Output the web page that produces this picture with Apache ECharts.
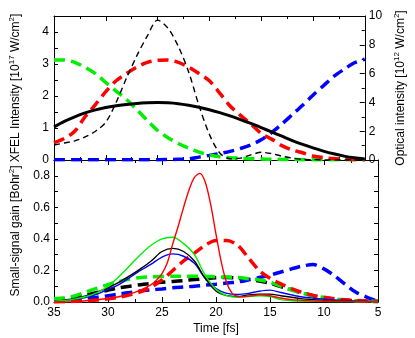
<!DOCTYPE html>
<html>
<head>
<meta charset="utf-8">
<script src="https://cdn.jsdelivr.net/npm/echarts@6/dist/echarts.min.js"></script>
<style>
  html, body { margin: 0; padding: 0; background: #fff; }
  #chart { width: 415px; height: 338px; }
</style>
</head>
<body>
<div id="chart"></div>
<script>
// time axis (fs), runs from 35 down to 5
var time = [35, 34, 33, 32, 31, 30, 29, 28, 27, 26, 25, 24, 23, 22, 21, 20, 19, 18, 17, 16, 15, 14, 13, 12, 11, 10, 9, 8, 7, 6, 5]

// top panel: XFEL pulse [1e17 W/cm2], left axis
var xfelPulse = [0.47, 0.53, 0.6, 0.72, 0.9, 1.18, 1.8, 2.56, 3.26, 3.87, 4.37, 4.12, 3.55, 2.75, 1.7, 0.8, 0.22, 0.04, 0.06, 0.16, 0.24, 0.2, 0.12, 0.06, 0.02, 0.01, 0, 0, 0, 0, 0]
// top panel: optical intensities [1e12 W/cm2], right axis
var opticalBlack = [2.3, 2.68, 3.0, 3.27, 3.48, 3.64, 3.76, 3.86, 3.93, 3.97, 3.99, 3.97, 3.91, 3.8, 3.66, 3.49, 3.29, 3.06, 2.81, 2.54, 2.25, 1.95, 1.65, 1.35, 1.08, 0.84, 0.62, 0.43, 0.27, 0.15, 0.07]
var opticalRed = [1.2, 1.5, 2.0, 3.0, 3.85, 4.75, 5.5, 6.0, 6.45, 6.78, 6.93, 6.95, 6.78, 6.45, 6.0, 5.5, 4.65, 3.75, 3.1, 2.5, 1.85, 1.45, 1.0, 0.7, 0.5, 0.28, 0.17, 0.1, 0.06, 0.04, 0.02]
var opticalGreen = [6.95, 6.95, 6.78, 6.44, 6.0, 5.38, 4.78, 4.2, 3.5, 2.75, 2.05, 1.55, 1.15, 0.82, 0.55, 0.35, 0.22, 0.16, 0.11, 0.09, 0.07, 0.05, 0.04, 0.03, 0.02, 0.02, 0.01, 0.01, 0.01, 0.01, 0.01]
var opticalBlue = [0.02, 0.02, 0.02, 0.02, 0.02, 0.02, 0.02, 0.02, 0.02, 0.02, 0.02, 0.03, 0.05, 0.08, 0.2, 0.32, 0.45, 0.6, 0.8, 1.05, 1.4, 1.9, 2.5, 3.15, 3.8, 4.5, 5.15, 5.8, 6.3, 6.75, 7.0]

// bottom panel: small-signal gain [Bohr2]
var gainBlackDash = [0.015, 0.02, 0.03, 0.045, 0.06, 0.075, 0.09, 0.1, 0.11, 0.118, 0.125, 0.13, 0.136, 0.142, 0.148, 0.153, 0.155, 0.152, 0.145, 0.133, 0.118, 0.098, 0.078, 0.057, 0.04, 0.027, 0.018, 0.012, 0.008, 0.005, 0.003]
var gainBlueDash = [0.005, 0.01, 0.016, 0.023, 0.03, 0.04, 0.05, 0.06, 0.07, 0.077, 0.083, 0.09, 0.095, 0.1, 0.107, 0.113, 0.12, 0.127, 0.14, 0.155, 0.17, 0.19, 0.21, 0.228, 0.237, 0.21, 0.165, 0.11, 0.06, 0.03, 0.005]
var gainGreenDash = [0.02, 0.027, 0.04, 0.065, 0.088, 0.11, 0.13, 0.145, 0.155, 0.16, 0.162, 0.163, 0.163, 0.163, 0.162, 0.16, 0.158, 0.155, 0.148, 0.14, 0.125, 0.1, 0.075, 0.055, 0.04, 0.028, 0.018, 0.012, 0.008, 0.005, 0.003]
var gainRedDash = [0, 0.002, 0.005, 0.008, 0.012, 0.02, 0.03, 0.045, 0.065, 0.095, 0.14, 0.2, 0.26, 0.31, 0.36, 0.39, 0.39, 0.36, 0.28, 0.2, 0.15, 0.115, 0.085, 0.06, 0.042, 0.03, 0.02, 0.014, 0.01, 0.007, 0.005]
var gainBlue = [0.005, 0.01, 0.018, 0.03, 0.05, 0.08, 0.11, 0.155, 0.2, 0.24, 0.285, 0.305, 0.29, 0.245, 0.15, 0.085, 0.055, 0.048, 0.055, 0.068, 0.075, 0.06, 0.045, 0.032, 0.024, 0.018, 0.013, 0.01, 0.007, 0.005, 0.004]
var gainBlack = [0.005, 0.012, 0.022, 0.04, 0.065, 0.09, 0.125, 0.165, 0.21, 0.26, 0.32, 0.34, 0.32, 0.26, 0.15, 0.07, 0.04, 0.035, 0.045, 0.05, 0.05, 0.04, 0.03, 0.02, 0.015, 0.01, 0.008, 0.006, 0.004, 0.003, 0.002]
var gainGreen = [0.005, 0.01, 0.02, 0.035, 0.06, 0.1, 0.16, 0.23, 0.3, 0.36, 0.4, 0.41, 0.37, 0.3, 0.17, 0.08, 0.04, 0.03, 0.035, 0.04, 0.035, 0.015, 0.008, 0.005, 0.004, 0.004, 0.003, 0.003, 0.003, 0.003, 0.003]
// red gain is sharper, sampled finer near its peak
var timeRed = [35, 34, 33, 32, 31, 30, 29, 28, 27, 26, 25.5, 25, 24.5, 24, 23.5, 23, 22.5, 22, 21.5, 21, 20.5, 20, 19.5, 19, 18.5, 18, 17.5, 17, 16, 15, 14, 13, 12, 11, 10, 9, 8, 7, 6, 5]
var gainRed = [0, 0, 0.003, 0.008, 0.014, 0.022, 0.033, 0.05, 0.075, 0.11, 0.14, 0.18, 0.25, 0.37, 0.48, 0.6, 0.71, 0.79, 0.815, 0.76, 0.62, 0.43, 0.25, 0.12, 0.055, 0.035, 0.033, 0.036, 0.045, 0.04, 0.025, 0.015, 0.01, 0.007, 0.005, 0.004, 0.003, 0.002, 0.002, 0.001]

var FONT = 'Liberation Sans'
var DASH = [11, 6]
var THIN_DASH = [6, 4]

function pairs (xs, ys) {
  var out = []
  for (var i = 0; i < xs.length; i++) out.push([xs[i], ys[i]])
  return out
}

function line (data, color, width, type, xi, yi) {
  return {
    type: 'line',
    data: data,
    xAxisIndex: xi,
    yAxisIndex: yi,
    smooth: 0.3,
    symbol: 'none',
    silent: true,
    lineStyle: { color: color, width: width, type: type, cap: 'butt' }
  }
}

function timeAxis (grid, pos, labels) {
  return {
    type: 'value',
    gridIndex: grid,
    position: pos,
    inverse: true,
    min: 5,
    max: 35,
    interval: 5,
    name: labels ? 'Time [fs]' : '',
    nameLocation: 'middle',
    nameGap: 21,
    nameTextStyle: { fontFamily: FONT, fontSize: 12, color: '#000' },
    axisLine: { show: true, onZero: false, lineStyle: { color: '#000', width: 1 } },
    axisTick: { show: true, inside: true, length: 5, lineStyle: { color: '#000' } },
    minorTick: { show: true, splitNumber: 2, length: 3, lineStyle: { color: '#000' } },
    axisLabel: { show: labels, margin: 5, fontFamily: FONT, fontSize: 12, color: '#000' },
    splitLine: { show: false }
  }
}

var supRich = {
  a: { fontFamily: FONT, fontSize: 12, color: '#000', lineHeight: 16 },
  s: { fontFamily: FONT, fontSize: 8, color: '#000', verticalAlign: 'top', lineHeight: 16, padding: [0, 0, 6, 0] }
}

var chart = echarts.init(document.getElementById('chart'), null, { renderer: 'canvas' })

var option = {
  animation: false,
  backgroundColor: '#fff',
  grid: [
    { left: 42, right: 37, top: 16, height: 144 },
    { left: 42, right: 37, top: 160, height: 142 }
  ],
  xAxis: [
    timeAxis(0, 'bottom', false),
    timeAxis(0, 'top', false),
    timeAxis(1, 'bottom', true),
    timeAxis(1, 'top', false)
  ],
  yAxis: [
    {
      type: 'value', gridIndex: 0, position: 'left', min: 0, max: 4.5, interval: 0.5,
      name: '{a|XFEL Intensity [10}{s|17}{a| W/cm}{s|2}{a|]}',
      nameLocation: 'middle', nameGap: 30, nameRotate: 90,
      nameTextStyle: { rich: supRich },
      axisLine: { show: true, lineStyle: { color: '#000' } },
      axisTick: { show: true, inside: true, length: 4, lineStyle: { color: '#000' } },
      axisLabel: {
        margin: 5, fontFamily: FONT, fontSize: 12, color: '#000',
        formatter: function (v) { return Math.abs(v - Math.round(v)) < 1e-6 ? String(Math.round(v)) : '' }
      },
      splitLine: { show: false }
    },
    {
      type: 'value', gridIndex: 0, position: 'right', min: 0, max: 10, interval: 2,
      name: '{a|Optical intensity [10}{s|12}{a| W/cm}{s|2}{a|]}',
      nameLocation: 'middle', nameGap: 27, nameRotate: 90,
      nameTextStyle: { rich: supRich },
      axisLine: { show: true, lineStyle: { color: '#000' } },
      axisTick: { show: true, inside: true, length: 5, lineStyle: { color: '#000' } },
      minorTick: { show: true, splitNumber: 2, length: 3, lineStyle: { color: '#000' } },
      axisLabel: { margin: 4, fontFamily: FONT, fontSize: 12, color: '#000' },
      splitLine: { show: false }
    },
    {
      type: 'value', gridIndex: 1, position: 'left', min: 0, max: 0.9, interval: 0.1,
      name: '{a|Small-signal gain [Bohr}{s|2}{a|]}',
      nameLocation: 'middle', nameGap: 30, nameRotate: 90,
      nameTextStyle: { rich: supRich },
      axisLine: { show: true, lineStyle: { color: '#000' } },
      axisTick: { show: true, inside: true, length: 4, lineStyle: { color: '#000' } },
      axisLabel: {
        margin: 4, fontFamily: FONT, fontSize: 12, color: '#000',
        formatter: function (v) {
          var k = Math.round(v * 10)
          return (k % 2 === 0 && k <= 8) ? (k / 10).toFixed(1) : ''
        }
      },
      splitLine: { show: false }
    },
    {
      type: 'value', gridIndex: 1, position: 'right', min: 0, max: 0.9, interval: 0.1,
      axisLine: { show: true, lineStyle: { color: '#000' } },
      axisTick: { show: true, inside: true, length: 4, lineStyle: { color: '#000' } },
      axisLabel: { show: false },
      splitLine: { show: false }
    }
  ],
  series: [
    // top panel
    line(pairs(time, opticalBlue), '#0000ff', 3.5, DASH, 0, 1),
    line(pairs(time, opticalGreen), '#00ee00', 3.5, DASH, 0, 1),
    line(pairs(time, opticalRed), '#ff0000', 3.5, DASH, 0, 1),
    line(pairs(time, xfelPulse), '#000', 1.4, THIN_DASH, 0, 0),
    line(pairs(time, opticalBlack), '#000', 3, 'solid', 0, 1),
    // bottom panel
    line(pairs(time, gainBlackDash), '#000', 3.5, DASH, 2, 2),
    line(pairs(time, gainBlueDash), '#0000ff', 3.5, DASH, 2, 2),
    line(pairs(time, gainGreenDash), '#00ee00', 3.5, DASH, 2, 2),
    line(pairs(time, gainRedDash), '#ff0000', 3.5, DASH, 2, 2),
    line(pairs(time, gainBlue), '#0000ff', 1.4, 'solid', 2, 2),
    line(pairs(time, gainBlack), '#000', 1.4, 'solid', 2, 2),
    line(pairs(time, gainGreen), '#00ee00', 1.4, 'solid', 2, 2),
    line(pairs(timeRed, gainRed), '#ff0000', 1.4, 'solid', 2, 2)
  ]
}

chart.setOption(option)
</script>
</body>
</html>
